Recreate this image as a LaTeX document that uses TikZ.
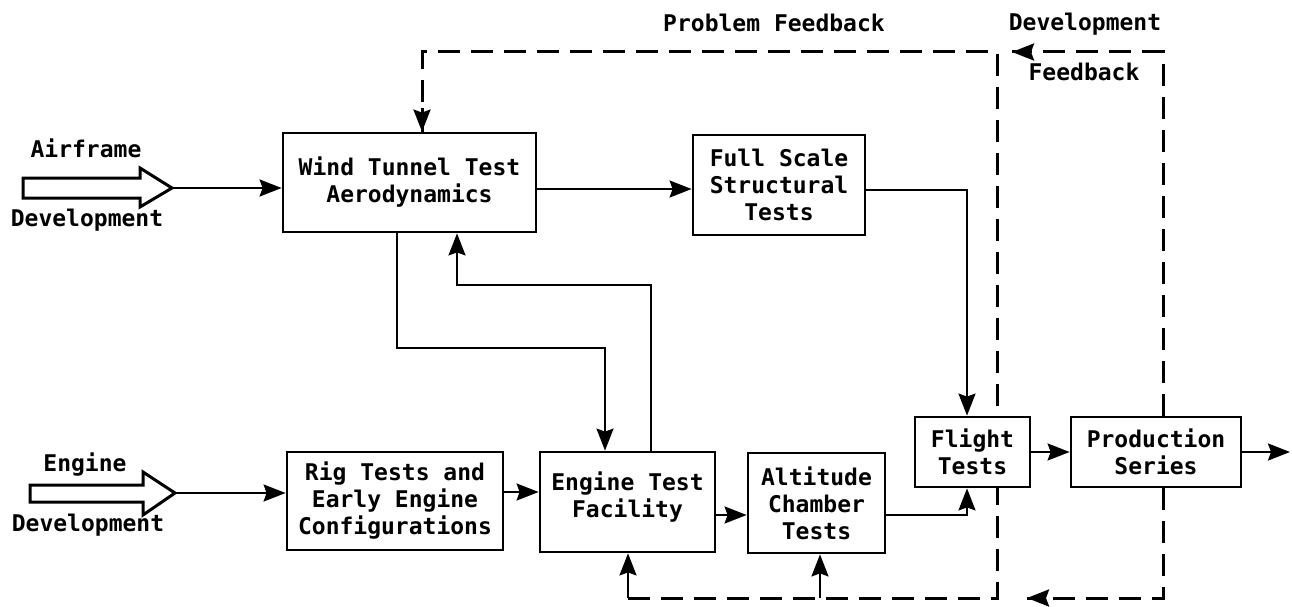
\documentclass[tikz,border=0pt]{standalone}
\usepackage{fontspec}
\setmainfont{DejaVu Sans Mono}
\usetikzlibrary{arrows.meta}
\pgfdeclarelayer{bg}
\pgfsetlayers{bg,main}
\begin{document}
\begin{tikzpicture}[x=1pt,y=-1pt,
  txt/.style={font=\bfseries\fontsize{23}{27}\selectfont},
  box/.style={txt, draw, line width=2.8pt, fill=white, inner sep=0pt, align=center},
  lbl/.style={txt, inner sep=0pt, align=center},
  tip/.style={-{Stealth[length=22pt,width=17pt,inset=3pt]}},
  conn/.style={tip, line width=2.2pt},
  fb/.style={line width=3pt, dash pattern=on 22pt off 11pt},
  hollow/.style={line width=3pt, line join=miter, fill=white}
]
\useasboundingbox (0,0) rectangle (1292,607);
\begin{pgfonlayer}{bg}
  \fill[white] (0,0) rectangle (1292,607);
\end{pgfonlayer}

% blocks
\node[box, minimum width=253pt, minimum height=99pt] (wt) at (409.5,182.5) {Wind Tunnel Test\\Aerodynamics};
\node[box, minimum width=172pt, minimum height=100pt] (fs) at (779,185) {Full Scale\\Structural\\Tests};
\node[box, minimum width=216pt, minimum height=98pt] (rig) at (395,501) {Rig Tests and\\Early Engine\\Configurations};
\node[box, minimum width=175pt, minimum height=100pt] (et) at (627.5,502) {};
\node[lbl] (ettext) at ([yshift=5pt]et.center) {Engine Test\\Facility};
\node[box, minimum width=137pt, minimum height=100pt] (al) at (816.5,503) {Altitude\\Chamber\\Tests};
\node[box, minimum width=115pt, minimum height=70pt] (ft) at (972.5,452) {Flight\\Tests};
\node[box, minimum width=170pt, minimum height=70pt] (pr) at (1156,452) {Production\\Series};

% labels
\node[lbl] (lpf) at (774,23) {Problem Feedback};
\node[lbl] (ldev) at (1085,24) {Development};
\node[lbl] (lfb) at (1084,72) {Feedback};
\node[lbl] (la1) at (86,148) {Airframe};
\node[lbl] (la2) at (87,220) {Development};
\node[lbl] (le1) at (85,465) {Engine};
\node[lbl] (le2) at (88,525) {Development};

% hollow input arrows
\draw[hollow] (23,178) -- (140,178) -- (140,168) -- (172,188) -- (140,207) -- (140,198) -- (23,198) -- cycle;
\coordinate (atip) at (172,188);
\draw[hollow] (30,485) -- (143,485) -- (143,472) -- (175,493) -- (143,515) -- (143,502) -- (30,502) -- cycle;
\coordinate (etip) at (175,493);

% bend points
\coordinate (b1) at (397,348);
\coordinate (b2) at (605,348);
\coordinate (c1) at (651,285);
\coordinate (c2) at (457,285);
\coordinate (fx) at (967,300);
\coordinate (out) at (1290,452);

% solid connectors
\draw[conn] (atip) -- (wt.west |- atip);
\draw[conn] (etip) -- (rig.west |- etip);
\draw[conn] ([yshift=-6.5pt]wt.east) -- ([yshift=-6.5pt]wt.east -| fs.west);
\draw[conn] ([yshift=-5pt]fs.east) -| (ft.north -| fx);
\draw[conn] (wt.south -| b1) -- (b1) -- (b2) -- (et.north -| b2);
\draw[conn] (et.north -| c1) -- (c1) -- (c2) -- (wt.south -| c2);
\draw[conn] ([yshift=9pt]rig.east) -- ([yshift=9pt]rig.east -| et.west);
\draw[conn] ([yshift=-13pt]et.east) -- ([yshift=-13pt]et.east -| al.west);
\draw[conn] ([yshift=-12pt]al.east) -| (ft.south -| fx);
\draw[conn] (ft.east) -- (ft.east -| pr.west);
\draw[conn] (pr.east) -- (out);

% feedback loops
\coordinate (tl) at (422,52);
\coordinate (jt) at (997,52);
\coordinate (jb) at (997,598);
\coordinate (bl) at (628,598);
\coordinate (ba) at (820,598);
\coordinate (pt) at (1163,52);
\coordinate (ta) at (1012,52);
\coordinate (pb) at (1163,598);
\coordinate (tb) at (1027,598);
\begin{pgfonlayer}{bg}
  \draw[fb] (bl) -- (jb) -- (jt) -- (tl) -- (wt.north -| tl);
\end{pgfonlayer}
\draw[tip, line width=3pt] ([yshift=24pt]wt.north -| tl) -- (wt.north -| tl);
\draw[fb] (pr.north -| pt) -- (pt) -- (ta);
\draw[tip, line width=3pt] ([xshift=18pt]ta) -- (ta);
\draw[fb] (pr.south -| pb) -- (pb) -- (tb);
\draw[tip, line width=3pt] ([xshift=18pt]tb) -- (tb);
\draw[conn] (bl) -- (et.south -| bl);
\draw[conn] (ba) -- (al.south -| ba);
\end{tikzpicture}
\end{document}
